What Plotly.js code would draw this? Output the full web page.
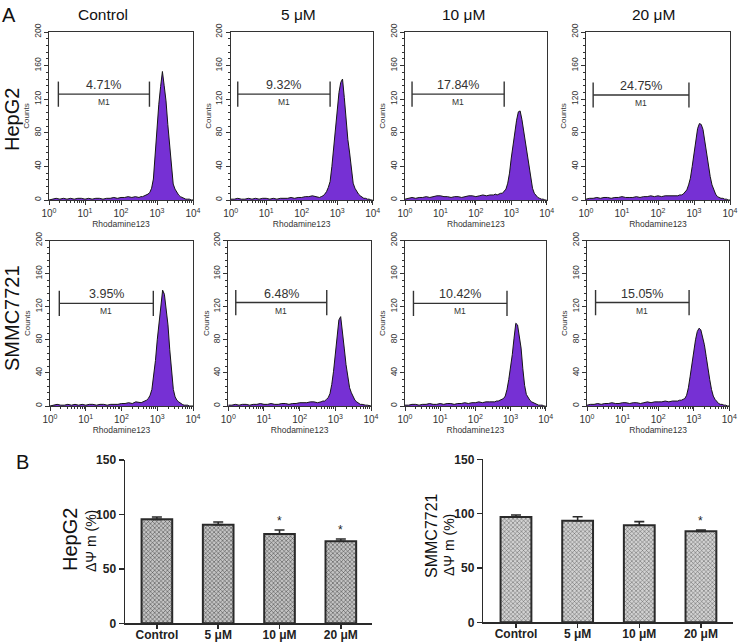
<!DOCTYPE html>
<html>
<head>
<meta charset="utf-8">
<script src="https://cdn.plot.ly/plotly-3.0.1.min.js"></script>
<style>
  html, body { margin: 0; padding: 0; background: #fff; }
  #chart { width: 739px; height: 644px; }
</style>
</head>
<body>
<div id="chart"></div>
<script>
// Rhodamine 123 fluorescence channels (log scale bin centres)
const FLUOR_BINS = [
  1.00, 1.26, 1.58, 2.00, 2.51, 3.16, 3.98, 5.01, 6.31, 7.94,
  10.0, 12.6, 15.8, 20.0, 25.1, 31.6, 39.8, 50.1, 63.1, 79.4,
  100, 126, 158, 200, 251,
  316, 355, 398, 447, 501, 562, 631, 708, 794, 891,
  1000, 1122, 1259, 1413, 1585, 1778, 1995, 2239, 2512, 2818,
  3162, 3548, 3981, 4467, 5012, 5623, 6310, 7079, 7943, 8913, 10000
];

// Event counts per bin, HepG2 cells
const HEPG2_CONTROL = [0,1,2,1,2,1,2,1,2,2,1,2,1,2,2,1,2,2,3,2,3,3,4,3,4,
  3,4,4,5,6,7,9,14,25,55,90,114,135,153,136,118,90,64,38,19,13,9,6,4,3,2,1,1,1,0,0];
const HEPG2_5UM = [1,1,2,1,1,2,1,2,1,2,2,1,2,1,2,2,2,3,2,3,3,4,4,5,4,
  3,4,5,7,10,15,22,40,62,82,108,128,140,144,122,95,72,56,36,20,14,10,7,5,3,2,2,1,1,0,0];
const HEPG2_10UM = [1,2,3,2,3,3,4,3,4,5,5,4,4,3,4,4,3,4,5,5,4,5,6,5,6,
  6,7,6,7,8,8,10,13,20,32,50,66,80,95,105,106,96,82,68,52,38,26,14,8,5,3,2,1,1,0,0];
const HEPG2_20UM = [1,2,2,3,2,3,3,2,3,3,4,3,3,3,4,3,4,4,5,4,5,4,5,5,5,
  5,5,6,6,7,9,12,18,26,40,55,72,85,91,90,84,70,56,40,28,18,11,7,4,3,2,2,1,1,0,0];

// Event counts per bin, SMMC7721 cells
const SMMC_CONTROL = [0,1,2,1,1,2,1,2,1,2,1,2,2,1,2,2,1,2,2,2,3,3,4,3,5,
  4,4,5,6,7,9,13,20,36,55,80,102,122,140,135,118,98,68,40,20,11,7,5,3,2,1,1,1,0,0,0];
const SMMC_5UM = [1,1,2,1,2,2,1,2,2,3,2,2,3,2,2,3,3,2,3,3,4,4,4,5,5,
  4,5,5,6,6,8,10,15,26,42,62,86,104,108,92,70,50,35,22,16,11,7,5,3,2,2,1,1,1,0,0];
const SMMC_10UM = [1,1,2,2,1,2,2,3,2,2,3,2,3,3,2,3,3,4,3,4,4,5,4,5,5,
  5,5,6,6,7,8,9,12,20,32,45,62,82,100,98,85,70,45,25,14,10,7,5,4,3,2,1,1,1,0,0];
const SMMC_20UM = [1,2,2,3,2,3,3,4,3,3,4,4,3,4,4,3,4,5,4,5,5,5,6,5,6,
  6,6,7,7,8,9,13,22,36,52,66,80,90,94,92,84,74,60,44,32,20,12,8,5,3,2,2,1,1,0,0];

// M1 gate (low / high channel, count level) and percentage of events inside it
const GATE_LO = [1.82, 1.58, 1.58, 1.58, 1.82, 1.62, 1.74, 1.74];
const GATE_HI = [617, 631, 631, 724, 776, 575, 794, 741];
const GATE_Y  = [126, 126, 126, 125, 124, 125, 124, 125];
const HEPG2_M1 = ['4.71%', '9.32%', '17.84%', '24.75%'];
const SMMC_M1  = ['3.95%', '6.48%', '10.42%', '15.05%'];

// Mitochondrial membrane potential, % of control (mean, SEM)
const CONDITIONS = ['Control', '5 \u03bcM', '10 \u03bcM', '20 \u03bcM'];
const HEPG2_DPSI = [95.5, 90.6, 82.0, 75.3];
const HEPG2_SEM  = [2.1, 2.4, 3.7, 2.1];
const SMMC_DPSI  = [96.9, 93.5, 89.3, 83.7];
const SMMC_SEM   = [1.8, 3.7, 3.3, 1.2];
const HEPG2_SIG  = ['', '', '*', '*'];
const SMMC_SIG   = ['', '', '', '*'];

const FONT = 'Liberation Sans, Arial, sans-serif';
const W = 739, H = 644;
const PURPLE = '#7630d4';
const INK = '#222';

// pixel box -> paper domain
const dx = (a, b) => [a / W, b / W];
const dy = (top, bottom) => [1 - bottom / H, 1 - top / H];

const histograms = [
  HEPG2_CONTROL, HEPG2_5UM, HEPG2_10UM, HEPG2_20UM,
  SMMC_CONTROL, SMMC_5UM, SMMC_10UM, SMMC_20UM
];
const gateLabels = HEPG2_M1.concat(SMMC_M1);

const panelX = [[49, 193], [230.7, 372.7], [405, 546.7], [586, 730],
                [50, 193], [228.3, 371], [405, 545.7], [587, 729.3]];
const panelY = [[32, 200], [32, 200], [32, 200], [32, 200],
                [240.5, 406], [240.5, 406], [240.5, 406], [240.5, 406]];

const minorLog = [];
for (let d = 0; d < 4; d++) for (let m = 2; m <= 9; m++) minorLog.push(m * Math.pow(10, d));

const data = [];
const layout = {
  width: W, height: H,
  margin: { l: 0, r: 0, t: 0, b: 0 },
  paper_bgcolor: '#fff', plot_bgcolor: '#fff',
  showlegend: false,
  font: { family: FONT, color: INK },
  annotations: []
};

histograms.forEach((counts, i) => {
  const n = i + 1;
  const xa = 'x' + (n === 1 ? '' : n), ya = 'y' + (n === 1 ? '' : n);
  data.push({
    type: 'scatter', mode: 'lines', x: FLUOR_BINS, y: counts,
    xaxis: xa, yaxis: ya, fill: 'tozeroy', fillcolor: PURPLE,
    line: { color: '#151515', width: 1 }, hoverinfo: 'skip'
  });
  data.push({
    type: 'scatter', mode: 'lines+markers',
    x: [GATE_LO[i], GATE_HI[i]], y: [GATE_Y[i], GATE_Y[i]],
    xaxis: xa, yaxis: ya,
    line: { color: '#333', width: 1.4 },
    marker: { symbol: 'line-ns-open', size: 18, line: { color: '#333', width: 1.4 } },
    hoverinfo: 'skip'
  });
  layout['xaxis' + (n === 1 ? '' : n)] = {
    domain: dx(panelX[i][0], panelX[i][1]), anchor: ya,
    type: 'log', range: [0, 4],
    tickmode: 'array', tickvals: [1, 10, 100, 1000, 10000],
    ticktext: ['10<sup>0</sup>', '10<sup>1</sup>', '10<sup>2</sup>', '10<sup>3</sup>', '10<sup>4</sup>'],
    ticks: 'outside', ticklen: 4, tickwidth: 1, tickcolor: '#333',
    minor: { tickmode: 'array', tickvals: minorLog, ticks: 'outside', ticklen: 2, tickcolor: '#333', showgrid: false },
    showline: true, linecolor: '#333', linewidth: 1, mirror: true,
    showgrid: false, zeroline: false,
    tickfont: { size: 10, color: '#333' },
    title: { text: 'Rhodamine123', font: { size: 8.5, color: '#333' }, standoff: 0 }
  };
  layout['yaxis' + (n === 1 ? '' : n)] = {
    domain: dy(panelY[i][0], panelY[i][1]), anchor: xa,
    range: [0, 200], tick0: 0, dtick: 40,
    ticks: 'outside', ticklen: 4, tickwidth: 1, tickcolor: '#333',
    minor: { dtick: 8, ticks: 'outside', ticklen: 2, tickcolor: '#333', showgrid: false },
    tickangle: -90,
    showline: true, linecolor: '#333', linewidth: 1, mirror: true,
    showgrid: false, zeroline: false,
    tickfont: { size: 8.5, color: '#333' },
    title: { text: 'Counts', font: { size: 8, color: '#333' }, standoff: 1 }
  };
  const mid = (Math.log10(GATE_LO[i]) + Math.log10(GATE_HI[i])) / 2;
  layout.annotations.push({
    xref: xa, yref: ya, x: mid, y: GATE_Y[i], yshift: 9, showarrow: false,
    text: gateLabels[i], font: { size: 12.5, color: '#333' }, yanchor: 'middle'
  });
  layout.annotations.push({
    xref: xa, yref: ya, x: mid, y: GATE_Y[i], yshift: -8, showarrow: false,
    text: 'M1', font: { size: 8.5, color: '#333' }, yanchor: 'middle'
  });
});

// Panel B: bar charts of ΔΨm
const barSets = [
  { vals: HEPG2_DPSI, sem: HEPG2_SEM, sig: HEPG2_SIG, n: 9,
    px: [125, 371.5], py: [460, 623.3], range: [-0.52, 3.5],
    pattern: { shape: 'x', size: 3, solidity: 0.3, fgcolor: '#3a3a3a', bgcolor: '#c4c4c4' } },
  { vals: SMMC_DPSI, sem: SMMC_SEM, sig: SMMC_SIG, n: 10,
    px: [483.3, 733], py: [459.3, 622.3], range: [-0.53, 3.52],
    pattern: { shape: 'x', size: 3, solidity: 0.3, fgcolor: '#5a5a5a', bgcolor: '#d2d2d2' } }
];

barSets.forEach(s => {
  const xa = 'x' + s.n, ya = 'y' + s.n;
  data.push({
    type: 'bar', x: CONDITIONS, y: s.vals, xaxis: xa, yaxis: ya, width: 0.5,
    marker: { color: '#c9c9c9', pattern: s.pattern, line: { color: '#2a2a2a', width: 2 } },
    error_y: { type: 'data', symmetric: false, array: s.sem, arrayminus: s.vals.map(() => 0),
               color: '#2a2a2a', thickness: 1.6, width: 5 },
    hoverinfo: 'skip'
  });
  layout['xaxis' + s.n] = {
    domain: dx(s.px[0], s.px[1]), anchor: ya, type: 'category',
    range: s.range, showline: true, linecolor: '#2a2a2a', linewidth: 1.5,
    ticks: 'outside', ticklen: 4, tickwidth: 1.5, tickcolor: '#2a2a2a',
    ticklabelstandoff: -4,
    showgrid: false, zeroline: false,
    tickfont: { size: 12, weight: 'bold', color: '#222' }
  };
  layout['yaxis' + s.n] = {
    domain: dy(s.py[0], s.py[1]), anchor: xa,
    range: [0, 150], dtick: 50, tick0: 0,
    showline: true, linecolor: '#2a2a2a', linewidth: 1.5,
    ticks: 'outside', ticklen: 5, tickwidth: 1.5, tickcolor: '#2a2a2a',
    showgrid: false, zeroline: false,
    tickfont: { size: 12, weight: 'bold', color: '#222' }
  };
  s.sig.forEach((t, k) => {
    if (!t) return;
    layout.annotations.push({
      xref: xa, yref: ya, x: k, y: s.vals[k] + s.sem[k], yshift: 9,
      showarrow: false, text: t, font: { size: 12, color: '#222' }
    });
  });
});

// Headings and labels placed in pixel positions
const px = (x, y) => ({ xref: 'paper', yref: 'paper', x: x / W, y: 1 - y / H, showarrow: false });
const label = (x, y, text, size, extra) =>
  Object.assign(px(x, y), { text, font: { size, color: '#111' }, xanchor: 'center', yanchor: 'middle' }, extra || {});

layout.annotations.push(
  label(9, 15, 'A', 20),
  label(22, 462, 'B', 20),
  label(103, 15, 'Control', 15.5),
  label(298, 15, '5 \u03bcM', 15.5),
  label(463, 15, '10 \u03bcM', 15.5),
  label(653, 15, '20 \u03bcM', 15.5),
  label(12, 120, 'HepG2', 20, { textangle: -90 }),
  label(12, 318, 'SMMC7721', 20, { textangle: -90 }),
  label(70, 540, 'HepG2', 20, { textangle: -90 }),
  label(91, 541, '\u0394\u03a8 m (%)', 14, { textangle: -90 }),
  label(431, 536, 'SMMC7721', 16, { textangle: -90 }),
  label(449, 545, '\u0394\u03a8 m (%)', 14, { textangle: -90 })
);

Plotly.newPlot('chart', data, layout, { staticPlot: true, displayModeBar: false });
</script>
</body>
</html>
